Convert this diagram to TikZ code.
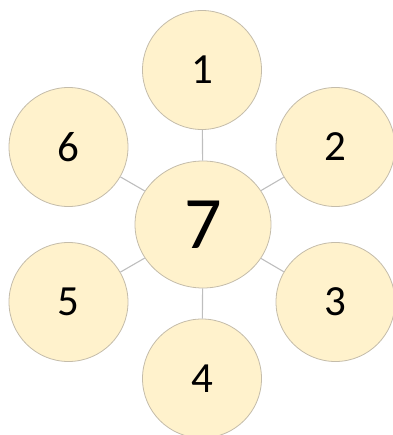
\documentclass[tikz,border=0pt]{standalone}
\usepackage{fontspec}
\setmainfont{Carlito}
\usetikzlibrary{shapes.geometric}
\definecolor{fillgold}{RGB}{255,242,204}
\definecolor{rimgray}{RGB}{196,188,170}
\definecolor{linkgray}{RGB}{190,190,190}
\begin{document}
\begin{tikzpicture}[x=1pt,y=-1pt,
  outer/.style={circle,draw=rimgray,fill=fillgold,line width=0.8pt,minimum size=119pt,inner sep=0pt,font=\fontsize{43}{43}\selectfont},
  hub/.style={ellipse,draw=rimgray,fill=fillgold,line width=0.8pt,minimum width=136pt,minimum height=127pt,inner sep=0pt,font=\fontsize{74}{74}\selectfont},
  link/.style={draw=linkgray,line width=1.1pt}]
\useasboundingbox (0,0) rectangle (392,435);
\node[hub] (c7) at (203,224.5) {7};
\node[outer] (c1) at (202,70) {1};
\node[outer] (c2) at (335.5,147) {2};
\node[outer] (c3) at (335.5,302) {3};
\node[outer] (c4) at (202,378.5) {4};
\node[outer] (c5) at (68.5,302) {5};
\node[outer] (c6) at (68.5,147) {6};
\foreach \n in {1,...,6} {\draw[link] (c7) -- (c\n);}
\end{tikzpicture}
\end{document}
